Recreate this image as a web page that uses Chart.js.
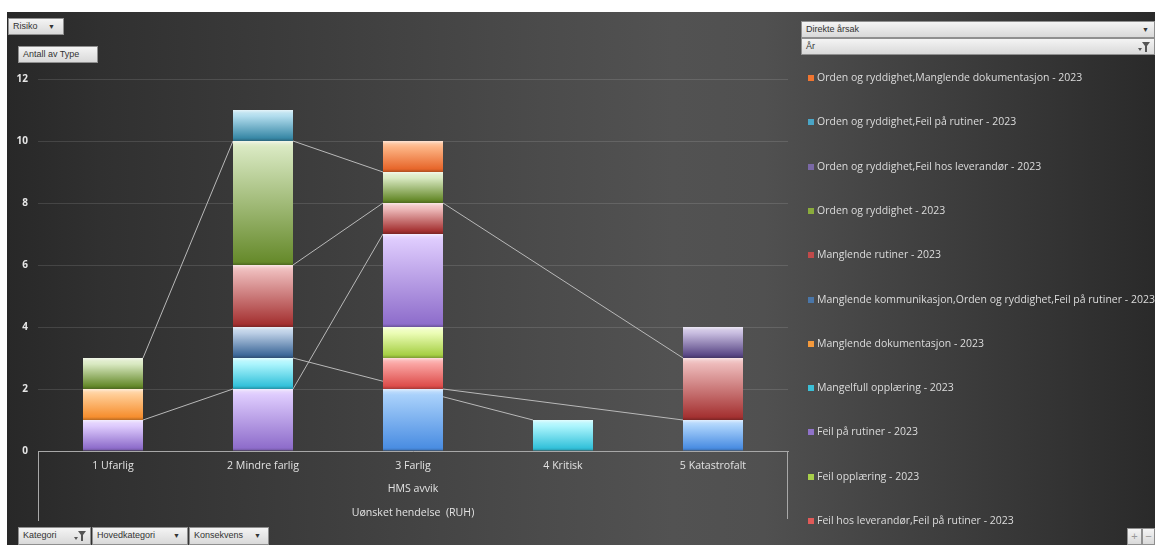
<!DOCTYPE html>
<html lang="no">
<head>
<meta charset="utf-8">
<title>Antall av Type per Risiko</title>
<script src="https://cdn.jsdelivr.net/npm/chart.js@4.4.1/dist/chart.umd.min.js"></script>
<style>
  html, body { margin: 0; padding: 0; width: 1155px; height: 545px; overflow: hidden; background: #fff; }
  body { position: relative; font-family: 'Open Sans', 'Liberation Sans', sans-serif; }
  #panel {
    position: absolute; left: 7px; top: 12px; width: 1148px; height: 533px;
    background: linear-gradient(to right, #282828 0%, #303030 8%, #3c3c3c 25%, #4a4a4a 45%, #525252 58%, #505050 66%, #444444 76%, #373737 88%, #2a2a2a 100%);
  }
  #chart { position: absolute; left: 0; top: 0; z-index: 1; }
  #legend { position: absolute; left: 808px; top: 0; z-index: 2; color: #dcdcdc; font-size: 10.5px; }
  #legend .item { position: absolute; left: 0; white-space: nowrap; line-height: 14px; }
  #legend .swatch { display: inline-block; width: 6px; height: 6px; margin-right: 3px; vertical-align: 0; }
  .btn {
    position: absolute; z-index: 3; box-sizing: border-box; height: 17px;
    background: linear-gradient(#f4f4f4, #d9d9d9); border: 1px solid #8f8f8f;
    font-family: 'Liberation Sans', sans-serif; font-size: 9px; color: #333;
    line-height: 15px; padding-left: 4px; white-space: nowrap;
  }
  .btn .arrow { position: absolute; right: 5px; top: 0; font-size: 7px; color: #333; }
  .btn svg { position: absolute; right: 4px; top: 3px; }
</style>
</head>
<body>
<div id="panel"></div>
<canvas id="chart" width="1155" height="545"></canvas>
<div id="legend"></div>

<div class="btn" style="left:8px; top:18px; width:56px;">Risiko<span class="arrow" style="right:8px">&#9660;</span></div>
<div class="btn" style="left:18px; top:46px; width:80px;">Antall av Type</div>
<div class="btn" style="left:801px; top:21px; width:354px;">Direkte årsak<span class="arrow">&#9660;</span></div>
<div class="btn" style="left:801px; top:38px; width:354px;">År<svg width="12" height="10"><path d="M0 6 L4 6 L2 9 Z M4 0 L12 0 L9 4 L9 10 L7 10 L7 4 Z" fill="#555"/></svg></div>
<div class="btn" style="left:18px; top:527px; width:73px; height:18px;">Kategori<svg width="12" height="10"><path d="M0 6 L4 6 L2 9 Z M4 0 L12 0 L9 4 L9 10 L7 10 L7 4 Z" fill="#555"/></svg></div>
<div class="btn" style="left:92px; top:527px; width:96px; height:18px;">Hovedkategori<span class="arrow" style="right:7px">&#9660;</span></div>
<div class="btn" style="left:189px; top:527px; width:80px; height:18px;">Konsekvens<span class="arrow" style="right:7px">&#9660;</span></div>
<div class="btn" style="left:1127px; top:528px; width:15px; padding:0; text-align:center; color:#999; font-size:11px;">+</div>
<div class="btn" style="left:1142px; top:528px; width:13px; padding:0; text-align:center; color:#999; font-size:11px;">&minus;</div>

<script>
const categories = ['1 Ufarlig', '2 Mindre farlig', '3 Farlig', '4 Kritisk', '5 Katastrofalt'];
const yTicks = [0, 2, 4, 6, 8, 10, 12];

// one array per cause, blank (null) where the pivot has no rows
const feilHosLeverandor = [null, null, 2, null, 1];
const feilHosLeverandorFeilPaRutiner = [null, null, 1, null, null];
const feilOpplaering = [null, null, 1, null, null];
const feilPaRutiner = [1, 2, 3, null, null];
const mangelfullOpplaering = [null, 1, null, 1, null];
const manglendeDokumentasjon = [1, null, null, null, null];
const manglendeKommunikasjon = [null, 1, null, null, null];
const manglendeRutiner = [null, 2, 1, null, 2];
const ordenOgRyddighet = [1, 4, 1, null, null];
const ordenFeilHosLeverandor = [null, null, null, null, 1];
const ordenFeilPaRutiner = [null, 1, null, null, null];
const ordenManglendeDokumentasjon = [null, null, 1, null, null];

const seriesNames = [
  'Feil hos leverandør - 2023',
  'Feil hos leverandør,Feil på rutiner - 2023',
  'Feil opplæring - 2023',
  'Feil på rutiner - 2023',
  'Mangelfull opplæring - 2023',
  'Manglende dokumentasjon - 2023',
  'Manglende kommunikasjon,Orden og ryddighet,Feil på rutiner - 2023',
  'Manglende rutiner - 2023',
  'Orden og ryddighet - 2023',
  'Orden og ryddighet,Feil hos leverandør - 2023',
  'Orden og ryddighet,Feil på rutiner - 2023',
  'Orden og ryddighet,Manglende dokumentasjon - 2023',
];

const seriesValues = [
  feilHosLeverandor, feilHosLeverandorFeilPaRutiner, feilOpplaering, feilPaRutiner,
  mangelfullOpplaering, manglendeDokumentasjon, manglendeKommunikasjon, manglendeRutiner,
  ordenOgRyddighet, ordenFeilHosLeverandor, ordenFeilPaRutiner, ordenManglendeDokumentasjon,
];

// [top, bottom, swatch] for the glossy column fills
const palette = [
  ['#a9d1fb', '#4a8de2', '#5b9bea'],
  ['#faa4a2', '#dd4d4b', '#e05a58'],
  ['#ecfdb6', '#a6cf44', '#a8cf4a'],
  ['#decbfd', '#8e6dcb', '#8f72c9'],
  ['#acf5fd', '#33c1da', '#3bbfd6'],
  ['#ffcc94', '#f68e2e', '#f59a3c'],
  ['#bccfe6', '#3d6899', '#4a76a8'],
  ['#edbaba', '#a43131', '#c04a4a'],
  ['#d9e9c2', '#668a2b', '#8aab3c'],
  ['#c8bde0', '#5a4886', '#7a68a6'],
  ['#b2ddee', '#3888a6', '#4aa5c6'],
  ['#fdb586', '#e7662a', '#f07530'],
];

const mix = (hex, other, t) => {
  const a = parseInt(hex.slice(1), 16);
  const b = parseInt(other.slice(1), 16);
  const ch = (n, s) => (n >> s) & 255;
  const c = [16, 8, 0].map((s) => Math.round(ch(a, s) + (ch(b, s) - ch(a, s)) * t));
  return `rgb(${c[0]}, ${c[1]}, ${c[2]})`;
};

const barFill = (context) => {
  const { chart, datasetIndex, dataIndex } = context;
  const [top, bottom] = palette[datasetIndex];
  const value = context.raw;
  const area = chart.chartArea;
  if (!area || value === null || value === undefined) return bottom;
  let base = 0;
  for (let k = 0; k < datasetIndex; k++) base += chart.data.datasets[k].data[dataIndex] || 0;
  const y = chart.scales.y;
  const y0 = y.getPixelForValue(base + value);
  const y1 = y.getPixelForValue(base);
  const h = Math.max(y1 - y0, 1);
  const g = chart.ctx.createLinearGradient(0, y0, 0, y1);
  g.addColorStop(0, mix(top, '#ffffff', 0.65));
  g.addColorStop(Math.min(3 / h, 0.3), mix(top, '#ffffff', 0.2));
  g.addColorStop(Math.min(6 / h, 0.35), top);
  g.addColorStop(Math.max(1 - 3 / h, 0.7), bottom);
  g.addColorStop(1, mix(bottom, '#000000', 0.25));
  return g;
};

// Excel style series lines: join the top of each series between neighbouring filled columns
const seriesLines = {
  id: 'seriesLines',
  beforeDatasetsDraw(chart) {
    const { ctx } = chart;
    ctx.save();
    ctx.strokeStyle = '#b9b9b9';
    ctx.lineWidth = 1;
    chart.data.datasets.forEach((ds, i) => {
      const bars = chart.getDatasetMeta(i).data;
      let prev = null;
      ds.data.forEach((v, j) => {
        if (v === null) return;
        const bar = bars[j];
        if (prev) {
          ctx.beginPath();
          ctx.moveTo(prev.x + prev.width / 2, prev.y);
          ctx.lineTo(bar.x - bar.width / 2, bar.y);
          ctx.stroke();
        }
        prev = bar;
      });
    });
    ctx.restore();
  },
};

// side rules of the category axis box
const axisBox = {
  id: 'axisBox',
  afterDraw(chart) {
    const { ctx, chartArea } = chart;
    ctx.save();
    ctx.strokeStyle = '#a8a8a8';
    ctx.lineWidth = 1;
    ctx.beginPath();
    ctx.moveTo(chartArea.left + 0.5, chartArea.bottom);
    ctx.lineTo(chartArea.left + 0.5, chartArea.bottom + 70);
    ctx.moveTo(chartArea.right - 0.5, chartArea.bottom);
    ctx.lineTo(chartArea.right - 0.5, chartArea.bottom + 68);
    ctx.stroke();
    ctx.restore();
  },
};

const datasets = seriesNames.map((name, i) => ({
  label: name,
  data: seriesValues[i],
  backgroundColor: barFill,
  borderWidth: 0,
  barPercentage: 1,
  categoryPercentage: 0.4,
}));

const chart = new Chart(document.getElementById('chart'), {
  type: 'bar',
  data: { labels: categories, datasets },
  plugins: [seriesLines, axisBox],
  options: {
    responsive: false,
    animation: false,
    layout: { padding: { left: 0, right: 367, top: 79, bottom: 0 } },
    plugins: { legend: { display: false }, tooltip: { enabled: false } },
    scales: {
      x: {
        stacked: true,
        grid: { display: false, drawTicks: false },
        border: { display: true, color: '#a8a8a8' },
        ticks: { color: '#e2e2e2', padding: 9, font: { family: 'Open Sans', size: 10.6 } },
        title: {
          display: true,
          text: ['HMS avvik', 'Uønsket hendelse  (RUH)'],
          color: '#e2e2e2',
          font: { family: 'Open Sans', size: 10.6, lineHeight: '24px' },
          padding: { top: 0, bottom: 20 },
        },
        afterFit: (scale) => { scale.height = 94; },
      },
      y: {
        stacked: true,
        min: 0,
        max: 12,
        afterBuildTicks: (scale) => { scale.ticks = yTicks.map((v) => ({ value: v })); },
        grid: { color: 'rgba(255, 255, 255, 0.12)', drawTicks: false },
        border: { display: false },
        ticks: { color: '#e6e6e6', padding: 10, font: { family: 'Open Sans', size: 10, weight: 'bold' } },
        afterFit: (scale) => { scale.width = 38; },
      },
    },
  },
});

// legend lists the series top of stack first, as the pivot chart does
const legendEl = document.getElementById('legend');
chart.data.datasets.slice().reverse().forEach((ds, k) => {
  const idx = chart.data.datasets.indexOf(ds);
  const item = document.createElement('div');
  item.className = 'item';
  item.style.top = `${70 + k * 44.3}px`;
  item.innerHTML = `<span class="swatch" style="background:${palette[idx][2]}"></span>${ds.label}`;
  legendEl.appendChild(item);
});
</script>
</body>
</html>
